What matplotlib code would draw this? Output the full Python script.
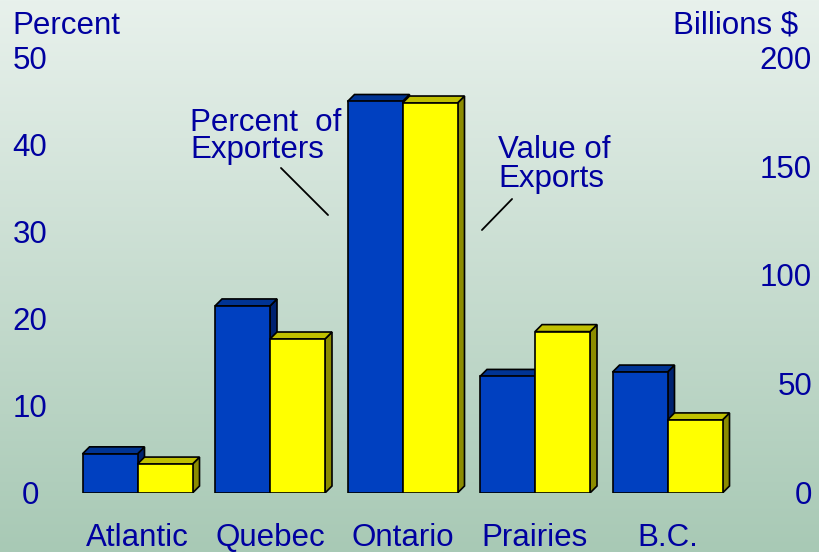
import matplotlib
matplotlib.use('Agg')
import matplotlib.pyplot as plt
from matplotlib.patches import Rectangle, Polygon
from matplotlib import transforms
import numpy as np

# data
regions = ['Atlantic', 'Quebec', 'Ontario', 'Prairies', 'B.C.']
pct_exporters = [4.5, 21.5, 45.0, 13.4, 13.9]      # left axis, percent
value_exports = [13.3, 70.8, 179.3, 74.2, 33.6]    # right axis, billions $
left_ticks = [0, 10, 20, 30, 40, 50]
right_ticks = [0, 50, 100, 150, 200]

plt.rcParams['font.family'] = ['Liberation Sans', 'DejaVu Sans']
TXT = '#0000A0'
FS = 22.5

W, H = 819, 552
fig = plt.figure(figsize=(W / 100, H / 100), dpi=100)

# background gradient
bg = fig.add_axes([0, 0, 1, 1], zorder=-10)
top = np.array([232, 241, 236]) / 255
bot = np.array([168, 201, 181]) / 255
t = np.linspace(0, 1, 256)[:, None]
grad = top[None, :] * (1 - t) + bot[None, :] * t
bg.imshow(grad[:, None, :], aspect='auto', extent=[0, 1, 0, 1])
bg.axis('off')

# plotting axes: baseline at y=493px, 50 at y=58px
y0 = (H - 493) / H
y1 = (H - 58) / H
ax = fig.add_axes([0, y0, 1, y1 - y0])
ax.patch.set_alpha(0)
ax.set_xlim(-137.5 / 132.5, (W - 137.5) / 132.5)
ax.set_ylim(0, 50)
ax.axis('off')

ax2 = ax.twinx()
ax2.set_ylim(0, 200)
ax2.axis('off')


def depth(a, px):
    inv = a.transData.inverted()
    xa, ya = inv.transform((0, 0))
    xb, yb = inv.transform((px, px))
    return xb - xa, yb - ya


def bar3d(a, x, w, h, front, topc, sidec):
    dx, dy = depth(a, 7)
    kw = dict(edgecolor='black', linewidth=1.2, joinstyle='miter')
    a.add_patch(Polygon([(x + w, 0), (x + w + dx, dy), (x + w + dx, h + dy), (x + w, h)],
                        facecolor=sidec, **kw))
    a.add_patch(Polygon([(x, h), (x + dx, h + dy), (x + w + dx, h + dy), (x + w, h)],
                        facecolor=topc, **kw))
    a.add_patch(Rectangle((x, 0), w, h, facecolor=front, **kw))


bw = 55 / 132.5
for i in range(len(regions)):
    bar3d(ax, i - bw, bw, pct_exporters[i], '#0040C0', '#003494', '#002270')
for i in range(len(regions)):
    bar3d(ax2, i, bw, value_exports[i], '#FFFF00', '#C0C000', '#8C8C00')

# tick labels (digits centred on the tick by cap height)
lt = transforms.blended_transform_factory(fig.transFigure, ax.transData)
lt = transforms.offset_copy(lt, fig, y=-11, units='dots')
for v in left_ticks:
    ax.text(30 / W, v, str(v), transform=lt, ha='center', va='baseline',
            fontsize=FS, color=TXT, clip_on=False)
rt = transforms.blended_transform_factory(fig.transFigure, ax2.transData)
rt = transforms.offset_copy(rt, fig, y=-11, units='dots')
for v in right_ticks:
    ax2.text(812 / W, v, str(v), transform=rt, ha='right', va='baseline',
             fontsize=FS, color=TXT, clip_on=False)

xt = transforms.blended_transform_factory(ax.transData, fig.transFigure)
for i, r in enumerate(regions):
    ax.text(i, (H - 546) / H, r, transform=xt, ha='center', va='baseline',
            fontsize=FS, color=TXT, clip_on=False)

fig.text(12 / W, (H - 34) / H, 'Percent', fontsize=FS, color=TXT, va='baseline')
fig.text(798 / W, (H - 34) / H, 'Billions $', fontsize=FS, color=TXT,
         va='baseline', ha='right')

# annotations
fig.text(190 / W, (H - 131) / H, 'Percent  of', fontsize=FS, color=TXT, va='baseline')
fig.text(190 / W, (H - 158) / H, 'Exporters', fontsize=FS, color=TXT, va='baseline')
fig.text(498 / W, (H - 158) / H, 'Value of', fontsize=FS, color=TXT, va='baseline')
fig.text(498 / W, (H - 187) / H, 'Exports', fontsize=FS, color=TXT, va='baseline')
ax.annotate('', xy=(330, H - 217), xycoords='figure pixels',
            xytext=(279, H - 166), textcoords='figure pixels',
            arrowprops=dict(arrowstyle='-', color='black', lw=1.3))
ax.annotate('', xy=(480, H - 232), xycoords='figure pixels',
            xytext=(514, H - 197), textcoords='figure pixels',
            arrowprops=dict(arrowstyle='-', color='black', lw=1.3))

fig.savefig('out.png', dpi=100)
